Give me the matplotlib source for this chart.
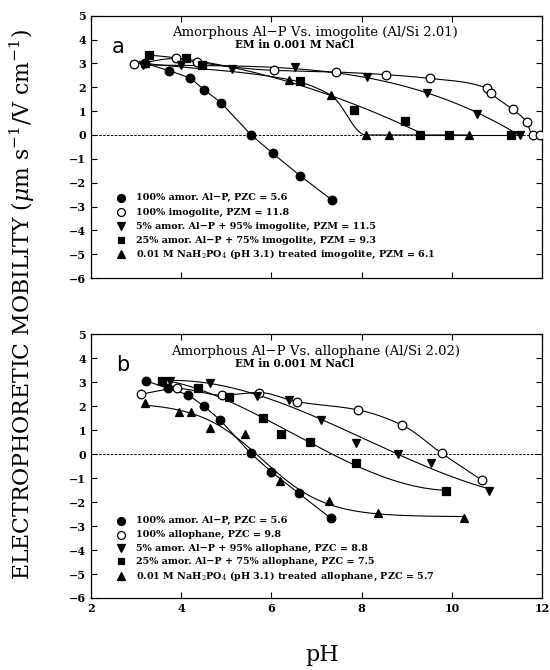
import numpy as np
import matplotlib
matplotlib.use("Agg")
import matplotlib.pyplot as plt

plt.rcParams['font.family'] = ['DejaVu Serif']
plt.rcParams['mathtext.fontset'] = 'dejavuserif'

# ---------------- data: panel a (imogolite) ----------------
a_amor_x = [3.2, 3.73, 4.2, 4.51, 4.88, 5.55, 6.03, 6.63, 7.35]
a_amor_y = [3.0, 2.70, 2.39, 1.89, 1.36, 0.0, -0.77, -1.70, -2.74]
a_imo_x = [2.95, 3.89, 4.34, 6.05, 7.43, 8.54, 9.52, 10.77, 10.87, 11.35, 11.66, 11.79, 11.95]
a_imo_y = [2.97, 3.21, 3.05, 2.71, 2.64, 2.53, 2.37, 1.97, 1.75, 1.07, 0.54, 0.0, 0.0]
a_5_x = [3.15, 3.99, 5.12, 6.52, 8.12, 9.44, 10.56, 11.52]
a_5_y = [2.95, 2.95, 2.77, 2.87, 2.44, 1.74, 0.88, 0.0]
a_25_x = [3.28, 4.10, 4.45, 6.63, 7.83, 8.96, 9.29, 9.94, 11.31]
a_25_y = [3.37, 3.23, 2.95, 2.28, 1.05, 0.60, 0.0, 0.0, 0.0]
a_tr_x = [3.2, 6.40, 7.32, 8.09, 8.61, 10.38]
a_tr_y = [3.0, 2.32, 1.67, 0.0, 0.0, 0.0]
a_labels = ["100% amor. Al\u2212P, PZC = 5.6",
            "100% imogolite, PZM = 11.8",
            "5% amor. Al\u2212P + 95% imogolite, PZM = 11.5",
            "25% amor. Al\u2212P + 75% imogolite, PZM = 9.3",
            "0.01 M NaH$_2$PO$_4$ (pH 3.1) treated imogolite, PZM = 6.1"]

# ---------------- data: panel b (allophane) ----------------
b_amor_x = [3.23, 3.71, 4.16, 4.51, 4.86, 5.54, 6.00, 6.61, 7.32]
b_amor_y = [3.05, 2.74, 2.47, 1.99, 1.43, 0.03, -0.74, -1.64, -2.68]
b_allo_x = [3.10, 3.91, 4.90, 5.73, 6.56, 7.91, 8.89, 9.78, 10.66]
b_allo_y = [2.50, 2.74, 2.46, 2.57, 2.19, 1.85, 1.22, 0.03, -1.08]
b_5_x = [3.75, 4.64, 5.67, 6.38, 7.11, 7.88, 8.81, 9.53, 10.83]
b_5_y = [3.05, 2.96, 2.43, 2.25, 1.43, 0.46, 0.0, -0.35, -1.53]
b_25_x = [3.57, 4.38, 5.07, 5.81, 6.21, 6.86, 7.88, 9.87]
b_25_y = [3.05, 2.74, 2.39, 1.49, 0.86, 0.51, -0.38, -1.53]
b_tr_x = [3.20, 3.94, 4.22, 4.64, 5.41, 6.18, 7.28, 8.37, 10.28]
b_tr_y = [2.13, 1.76, 1.76, 1.11, 0.83, -1.14, -1.97, -2.47, -2.67]
b_labels = ["100% amor. Al\u2212P, PZC = 5.6",
            "100% allophane, PZC = 9.8",
            "5% amor. Al\u2212P + 95% allophane, PZC = 8.8",
            "25% amor. Al\u2212P + 75% allophane, PZC = 7.5",
            "0.01 M NaH$_2$PO$_4$ (pH 3.1) treated allophane, PZC = 5.7"]

xticks = [2, 4, 6, 8, 10, 12]
yticks = [-6, -5, -4, -3, -2, -1, 0, 1, 2, 3, 4, 5]

markers = [dict(marker='o', mfc='black'), dict(marker='o', mfc='white'),
           dict(marker='v', mfc='black'), dict(marker='s', mfc='black'),
           dict(marker='^', mfc='black')]
msizes = [6.2, 6.2, 6.0, 5.2, 6.0]


def pchip(x, y, xn):
    x = np.asarray(x, float); y = np.asarray(y, float)
    h = np.diff(x); d = np.diff(y) / h
    n = len(x); m = np.zeros(n)
    for k in range(1, n - 1):
        if d[k - 1] * d[k] > 0:
            w1 = 2 * h[k] + h[k - 1]; w2 = h[k] + 2 * h[k - 1]
            m[k] = (w1 + w2) / (w1 / d[k - 1] + w2 / d[k])
    m[0] = d[0]; m[-1] = d[-1]
    idx = np.clip(np.searchsorted(x, xn) - 1, 0, n - 2)
    t = (xn - x[idx]) / h[idx]
    h00 = 2 * t**3 - 3 * t**2 + 1; h10 = t**3 - 2 * t**2 + t
    h01 = -2 * t**3 + 3 * t**2; h11 = t**3 - t**2
    return h00 * y[idx] + h10 * h[idx] * m[idx] + h01 * y[idx + 1] + h11 * h[idx] * m[idx + 1]


def sigmoid_fit(x, y, xn):
    best = None
    for c in np.linspace(4, 9, 101):
        for s in np.linspace(0.3, 2.5, 45):
            g = 1.0 / (1.0 + np.exp((x - c) / s))
            A = np.vstack([np.ones_like(x), g]).T
            coef, *_ = np.linalg.lstsq(A, y, rcond=None)
            r = np.sum((A @ coef - y) ** 2)
            if best is None or r < best[0]:
                best = (r, c, s, coef)
    _, c, s, coef = best
    return coef[0] + coef[1] / (1.0 + np.exp((xn - c) / s))


def draw_curve(ax, x, y, mode):
    x = np.asarray(x, float); y = np.asarray(y, float)
    kw = dict(color='black', lw=0.8, zorder=2)
    if mode == 'line':
        ax.plot(x, y, **kw)
        return
    xn = np.linspace(x[0], x[-1], 400)
    if mode == 'pchip':
        yn = pchip(x, y, xn)
    elif mode == 'sigmoid':
        yn = sigmoid_fit(x, y, xn)
    elif mode == 'fitzero':
        k = int(np.argmax(y == 0))
        xs = np.linspace(x[0], x[k], 300)
        ys = np.polyval(np.polyfit(x[:k + 1], y[:k + 1], 3), xs)
        ax.plot(xs, ys, **kw)
        ax.plot([x[k], x[-1]], [0, 0], **kw)
        return
    else:
        yn = np.polyval(np.polyfit(x, y, mode), xn)
    ax.plot(xn, yn, **kw)


fig = plt.figure(figsize=(5.5, 6.7), dpi=100)
ax1 = fig.add_axes([0.1655, 0.585, 0.82, 0.3915])
ax2 = fig.add_axes([0.1655, 0.1075, 0.82, 0.3936])

panels = [
    (ax1, [(a_amor_x, a_amor_y, 'line'), (a_imo_x, a_imo_y, 'pchip'),
           (a_5_x, a_5_y, 3), (a_25_x, a_25_y, 'fitzero'), (a_tr_x, a_tr_y, 'pchip')],
     a_labels, "Amorphous Al\u2212P Vs. imogolite (Al/Si 2.01)", 'a',
     [-2.64, -3.23, -3.83, -4.41, -5.01]),
    (ax2, [(b_amor_x, b_amor_y, 'line'), (b_allo_x, b_allo_y, 'pchip'),
           (b_5_x, b_5_y, 3), (b_25_x, b_25_y, 3), (b_tr_x, b_tr_y, 'sigmoid')],
     b_labels, "Amorphous Al\u2212P Vs. allophane (Al/Si 2.02)", 'b',
     [-2.78, -3.36, -3.93, -4.47, -5.10]),
]

for ax, series, labels, title, letter, leg_y in panels:
    ax.set_xlim(2, 12)
    ax.set_ylim(-6, 5)
    ax.axhline(0, color='black', lw=0.7, ls=(0, (2.5, 1.5)), zorder=1)
    for (x, y, mode), mk, ms in zip(series, markers, msizes):
        draw_curve(ax, x, y, mode)
        ax.plot(x, y, ls='none', marker=mk['marker'], mfc=mk['mfc'], mec='black',
                mew=0.9, ms=ms, zorder=3)
    for lab, mk, ms, ly in zip(labels, markers, msizes, leg_y):
        ax.plot([2.67], [ly], ls='none', marker=mk['marker'], mfc=mk['mfc'],
                mec='black', mew=0.9, ms=ms - 0.5, zorder=3)
        ax.text(3.0, ly, lab, fontsize=6.9, fontweight='bold', va='center', ha='left')
    ax.text(6.97, 4.3, title, fontsize=9.5, ha='center', va='center')
    ax.text(6.52, 3.78, "EM in 0.001 M NaCl", fontsize=7.6, fontweight='bold',
            ha='center', va='center')
    ax.text(2.45 if letter == 'a' else 2.55, 3.7, letter, fontsize=15,
            family='DejaVu Sans', ha='left', va='center')
    ax.set_xticks(xticks)
    ax.set_yticks(yticks)
    ax.tick_params(direction='in', length=4, width=0.8, top=True, right=True,
                   labelsize=8)
    ax.set_yticklabels([str(v) if v >= 0 else '\u2212' + str(-v) for v in yticks])
    for lbl in ax.get_yticklabels() + ax.get_xticklabels():
        lbl.set_fontweight('bold')
    for sp in ax.spines.values():
        sp.set_linewidth(0.9)

ax1.set_xticklabels([])

fig.text(0.04, 0.545, "ELECTROPHORETIC MOBILITY ($\\mu$m s$^{-1}$/V cm$^{-1}$)",
         rotation=90, fontsize=15.8, ha='center', va='center')
fig.text(0.585, 0.022, "pH", fontsize=16, ha='center', va='center')

fig.savefig("out.png", dpi=100)
